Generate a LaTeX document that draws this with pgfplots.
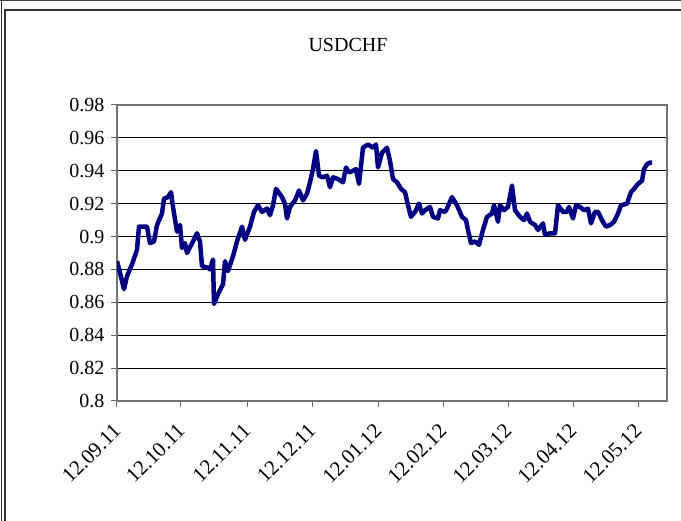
\documentclass[border=0pt]{standalone}
\usepackage{pgfplots}
\pgfplotsset{compat=1.18}
\usepackage{fontspec}
\setmainfont{Liberation Serif}

\begin{document}
\begin{tikzpicture}[x=1pt,y=1pt]
	\useasboundingbox (0,0) rectangle (681,521);
	% chart frame (cut off at right and bottom)
	\draw[line width=1.2pt, black!75] (0,520.4) -- (681,520.4);
	\draw[line width=1.2pt, black!80] (1.2,0) -- (1.2,520);
	\draw[line width=1.2pt, black!80] (5,0) -- (5,511) -- (681,511);
	\node[font=\fontsize{20}{22}\selectfont] at (348,476) {USDCHF};

	\begin{axis}[
		at={(117pt,120pt)}, anchor=south west,
		scale only axis, width=550pt, height=296pt,
		xmin=0, xmax=550, ymin=0.8, ymax=0.98,
		xtick={0,64,130,195,261,326,391,456,521},
		xticklabels={12.09.11,12.10.11,12.11.11,12.12.11,12.01.12,12.02.12,12.03.12,12.04.12,12.05.12},
		ytick={0.8,0.82,0.84,0.86,0.88,0.9,0.92,0.94,0.96,0.98},
		/pgf/number format/assume math mode=true,
		ymajorgrids, grid style={black, line width=0.8pt},
		axis line style={black!55, line width=1.3pt},
		tick style={black!60, line width=1pt},
		tick align=outside, major tick length=6pt,
		xtick pos=bottom, ytick pos=left,
		ticklabel style={font=\fontsize{20}{22}\selectfont},
		x tick label style={font=\fontsize{21}{23}\selectfont, xshift=-5pt, yshift=-14pt, rotate=45, anchor=north east, inner sep=1pt},
		y tick label style={xshift=-3pt},
	]
	\addplot[color={rgb,255:red,0;green,0;blue,128}, line width=4.5pt, line join=round] coordinates {
		(0,0.885) (3,0.878) (7,0.868) (10,0.876) (15,0.883) (20,0.892) (22,0.906)
		(26,0.906) (30,0.906) (33,0.896) (37,0.897) (40,0.907) (45,0.914) (47,0.923)
		(51,0.924) (54,0.927) (56,0.918) (60,0.903) (63,0.907) (65,0.893) (68,0.896)
		(70,0.890) (76,0.897) (80,0.902) (83,0.897) (85,0.882) (91,0.881) (93,0.880)
		(96,0.886) (97,0.859) (101,0.865) (106,0.871) (108,0.885) (111,0.879)
		(116,0.888) (120,0.897) (125,0.906) (128,0.898) (133,0.906) (137,0.915)
		(141,0.919) (145,0.915) (150,0.917) (153,0.913) (156,0.919) (159,0.929)
		(165,0.924) (168,0.920) (170,0.911) (173,0.918) (178,0.922) (182,0.928)
		(186,0.922) (190,0.926) (193,0.933) (196,0.941) (199,0.952) (202,0.937)
		(206,0.936) (210,0.937) (213,0.930) (216,0.936) (221,0.935) (226,0.933)
		(229,0.942) (232,0.939) (236,0.940) (239,0.941) (242,0.932) (246,0.954)
		(251,0.956) (256,0.954) (259,0.956) (261,0.942) (265,0.951) (270,0.954)
		(273,0.946) (276,0.935) (280,0.933) (284,0.929) (288,0.927) (291,0.919)
		(294,0.912) (298,0.915) (302,0.920) (305,0.914) (308,0.916) (313,0.918)
		(316,0.912) (321,0.911) (323,0.916) (328,0.915) (330,0.917) (335,0.924)
		(340,0.919) (345,0.912) (349,0.910) (351,0.904) (354,0.896) (358,0.897)
		(362,0.895) (366,0.904) (370,0.912) (375,0.914) (377,0.919) (381,0.909)
		(383,0.919) (387,0.916) (391,0.918) (395,0.931) (398,0.916) (403,0.912)
		(407,0.910) (410,0.914) (413,0.909) (418,0.907) (421,0.904) (426,0.908)
		(428,0.901) (433,0.902) (438,0.902) (441,0.919) (446,0.915) (450,0.915)
		(452,0.918) (456,0.911) (459,0.919) (463,0.918) (467,0.916) (471,0.917)
		(474,0.908) (478,0.915) (481,0.915) (485,0.910) (489,0.906) (493,0.907)
		(497,0.909) (501,0.914) (504,0.919) (510,0.920) (514,0.927) (517,0.929)
		(521,0.932) (525,0.934) (527,0.941) (530,0.944) (533,0.945) (535,0.945)
	};
	\end{axis}
\end{tikzpicture}
\end{document}
